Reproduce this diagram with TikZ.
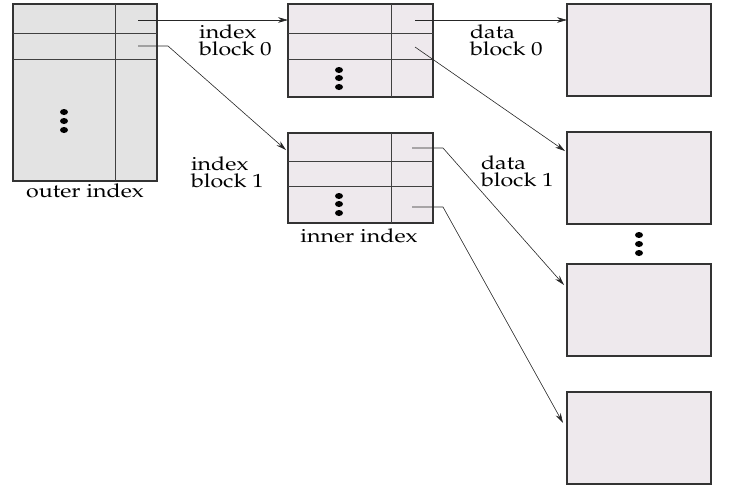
\documentclass[tikz,border=0pt]{standalone}
\usepackage[T1]{fontenc}
\usepackage{mathpazo}
\usetikzlibrary{calc,arrows.meta}
% label font: Palatino, widened horizontally
\newcommand\lblfont{\fontsize{9.5}{8.3}\selectfont\lineskiplimit=-20pt\relax\lineskip=0pt\relax}
\newcommand\wide[1]{\scalebox{1.22}[1]{#1}}
\begin{document}
\begin{tikzpicture}[x=0.5pt,y=-0.5pt,
  every node/.style={inner sep=0pt,outer sep=0pt},
  outerbox/.style={draw=black!80,line width=0.55pt,fill=black!11,minimum width=72pt},
  blockbox/.style={draw=black!80,line width=0.55pt,fill=pinkgray,minimum width=72.5pt,minimum height=46pt},
  databox/.style={draw=black!80,line width=0.55pt,fill=pinkgray,minimum width=72pt,minimum height=46pt},
  rule/.style={draw=black!75,line width=0.5pt},
  ptr/.style={draw=black!85,line width=0.3pt,-{Stealth[length=5pt,width=2.8pt]}},
  txt/.style={font=\lblfont},
  lbl/.style={txt,align=left,anchor=base west},
  dot/.style={fill=black}]
\definecolor{pinkgray}{RGB}{238,233,237}
\useasboundingbox (0,0) rectangle (732,493);

% outer index table
\node[outerbox,minimum height=88.5pt] (outer) at (85,92.5) {};
\draw[rule] (115,4) -- (115,181);
\draw[rule] (13,33) -- (157,33);
\draw[rule] (13,59) -- (157,59);
\foreach \yy in {112,121,130} \fill[dot] (64,\yy) ellipse (4 and 3);
\node[txt,anchor=base] (outerlbl) at (85,197) {\wide{outer index}};

% index block 0
\node[blockbox,minimum height=46.5pt] (ib0) at (360.5,50.5) {};
\draw[rule] (391,4) -- (391,97);
\draw[rule] (288,33) -- (433,33);
\draw[rule] (288,59) -- (433,59);
\foreach \yy in {70,78,87} \fill[dot] (339,\yy) ellipse (4 and 3);

% index block 1 (inner index)
\node[blockbox,minimum height=45pt] (ib1) at (360.5,178) {};
\draw[rule] (391,133) -- (391,223);
\draw[rule] (288,161) -- (433,161);
\draw[rule] (288,186) -- (433,186);
\foreach \yy in {196,204,213} \fill[dot] (339,\yy) ellipse (4 and 3);
\node[txt,anchor=base] (innerlbl) at (359,242) {\wide{inner index}};

% data blocks
\node[databox] (db0) at (639,50) {};
\node[databox] (db1) at (639,178) {};
\node[databox] (db2) at (639,310) {};
\node[databox] (db3) at (639,438) {};
\foreach \yy in {235,244,253} \fill[dot] (639,\yy) ellipse (4 and 3);

% labels (anchored on the baseline of the second line)
\node[lbl] (l0) at (199,55) {\wide{index}\\\wide{block 0}};
\node[lbl] (l1) at (191,187) {\wide{index}\\\wide{block 1}};
\node[lbl] (l2) at (470,55) {\wide{data}\\\wide{block 0}};
\node[lbl] (l3) at (481,186) {\wide{data}\\\wide{block 1}};

% pointer start points
\coordinate (po0) at (138,20);
\coordinate (po1) at (138,46);
\coordinate (pi0) at (415,20);
\coordinate (pi1) at (415,47);
\coordinate (pj0) at (412,148);
\coordinate (pj1) at (412,207);

% pointers
\draw[ptr] (po0) -- (po0 -| ib0.west);
\draw[ptr] (po1) -- ++(30,0) -- ($(ib1.north west)+(-2,17)$);
\draw[ptr] (pi0) -- (pi0 -| db0.west);
\draw[ptr] (pi1) -- ($(db1.north west)+(-2,19)$);
\draw[ptr] (pj0) -- ++(31,0) -- ($(db2.north west)+(-3,21)$);
\draw[ptr] (pj1) -- ++(31,0) -- ($(db3.north west)+(-4,31)$);
\end{tikzpicture}
\end{document}
